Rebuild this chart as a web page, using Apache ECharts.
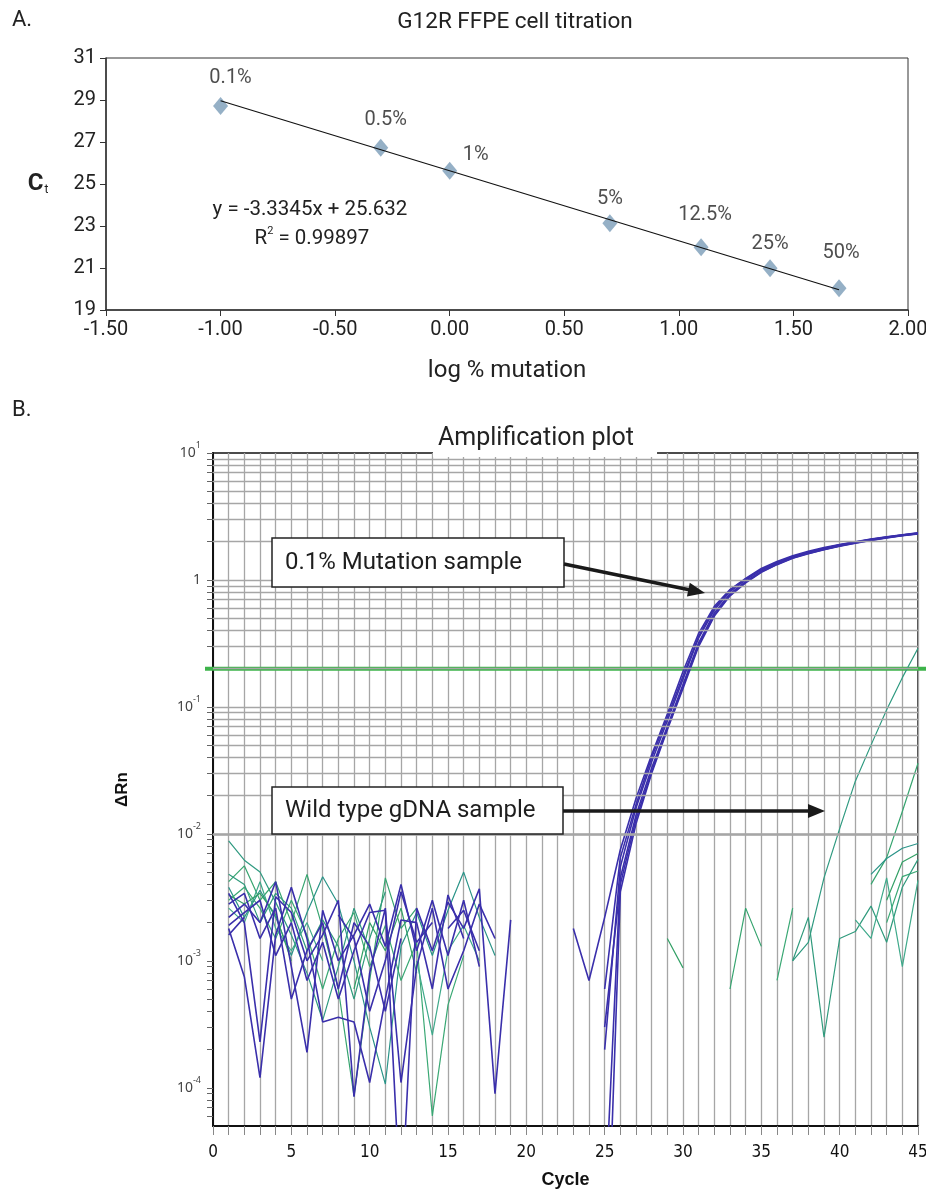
<!DOCTYPE html>
<html>
<head>
<meta charset="utf-8">
<script src="https://cdn.jsdelivr.net/npm/echarts@6/dist/echarts.min.js"></script>
<style>
html,body{margin:0;padding:0;background:#fff;}
#chart{width:926px;height:1189px;}
</style>
</head>
<body>
<div id="chart"></div>
<script>
// ---------------- Panel A data ----------------
const titrationLabels = ['0.1%', '0.5%', '1%', '5%', '12.5%', '25%', '50%'];
const logMutation = [-1.00, -0.301, 0.00, 0.699, 1.097, 1.398, 1.699];
const ctValues = [28.71, 26.73, 25.63, 23.13, 21.99, 20.99, 20.03];
const fitSlope = -3.3345;
const fitIntercept = 25.632;
const fitR2 = '0.99897';

// ---------------- Panel B data ----------------
const cycles = [1,2,3,4,5,6,7,8,9,10,11,12,13,14,15,16,17,18,19,20,21,22,23,24,25,26,27,28,29,30,31,32,33,34,35,36,37,38,39,40,41,42,43,44,45];
const threshold = 0.2;
const n = null;
// 0.1% mutation sample replicates (delta Rn per cycle)
const mut1 = [2.2e-3,2.8e-3,2.0e-3,4.2e-3,9e-4,1.9e-4,2.5e-3,1.0e-3,1.6e-3,2.8e-3,1.3e-3,4.0e-3,1.2e-3,3.0e-3,1.1e-3,3.0e-3,9e-4,n,n,n,n,n,1.8e-3,7e-4,2.2e-3,7.5e-3,0.019,0.042,0.088,0.19,0.38,0.62,0.84,1.03,1.23,1.4,1.55,1.68,1.8,1.9,2.0,2.1,2.19,2.27,2.35];
const mut2 = [1.8e-3,7.5e-4,1.2e-4,1.6e-3,3.8e-3,1.5e-3,3.3e-4,3.6e-4,3.3e-4,1.1e-4,5e-4,2.1e-3,2.0e-3,6e-4,3.3e-3,1.5e-3,n,n,n,n,n,n,n,n,2e-4,5.5e-3,0.016,0.037,0.078,0.165,0.35,0.58,0.81,1.0,1.2,1.37,1.52,1.65,1.77,1.88,1.98,2.08,2.17,2.26,2.33];
const mut3 = [3.4e-3,2.0e-3,2.3e-4,3.2e-3,2.4e-3,1.0e-3,1.6e-3,3.0e-3,8.5e-5,8e-4,2.6e-3,1e-5,2.6e-3,1.2e-3,2.9e-3,1.8e-3,3.7e-3,9e-5,2.1e-3,n,n,n,n,n,1e-5,4.5e-3,0.014,0.033,0.07,0.15,0.32,0.55,0.78,0.97,1.17,1.34,1.5,1.63,1.75,1.86,1.97,2.07,2.16,2.24,2.31];
const mut4 = [1.9e-3,2.4e-3,3.0e-3,1.1e-3,2.0e-3,7e-4,1.4e-3,5e-4,1.2e-3,2.4e-3,2.5e-3,1.1e-4,9e-4,2.6e-3,6e-4,1.2e-3,2.8e-3,1.5e-3,n,n,n,n,n,n,1e-6,3.5e-3,0.012,0.03,0.066,0.14,0.3,0.52,0.75,0.95,1.15,1.32,1.48,1.61,1.73,1.84,1.95,2.05,2.14,2.23,2.3];
const mut5 = [2.8e-3,3.4e-3,1.5e-3,2.6e-3,5e-4,1.2e-3,2.0e-3,6e-4,2.0e-3,1.3e-3,4e-4,1.5e-3,n,n,1.8e-3,2.5e-3,1.2e-3,n,n,n,n,n,n,n,6e-4,6.5e-3,0.017,0.04,0.083,0.175,0.36,0.6,0.83,1.02,1.21,1.38,1.53,1.66,1.78,1.89,1.99,2.09,2.18,2.26,2.34];
const mut6 = [1.6e-3,2.2e-3,n,n,n,n,n,2.3e-3,1.5e-3,4e-4,1.0e-3,3.5e-3,1.4e-3,2.0e-3,n,n,n,n,n,n,n,n,n,n,3e-4,4e-3,0.013,0.031,0.068,0.145,0.31,0.53,0.76,0.96,1.16,1.33,1.49,1.62,1.74,1.85,1.96,2.06,2.15,2.24,2.32];
// wild type gDNA sample replicates
const wt1 = [8.8e-3,6.2e-3,5.0e-3,2.9e-3,1.6e-3,8e-4,3.4e-4,9e-4,2.6e-3,1.2e-3,n,n,n,n,n,n,n,n,n,n,n,n,n,n,n,n,n,n,n,n,n,n,n,n,n,n,1.0e-3,1.4e-3,4.5e-3,0.011,0.026,0.05,0.095,0.17,0.29];
const wt2 = [4.2e-3,5.6e-3,3.0e-3,4.2e-3,2.0e-3,4.8e-3,1.8e-3,6e-4,8.6e-5,7e-4,4.5e-3,1.8e-3,2.6e-3,n,n,n,n,n,n,n,n,n,n,n,n,n,n,n,n,n,n,n,6e-4,2.6e-3,1.3e-3,n,n,n,n,n,n,4.0e-3,6.5e-3,0.015,0.036];
const wt3 = [3.8e-3,2.2e-3,3.6e-3,2.2e-3,1.1e-3,2.4e-3,4.6e-3,2.8e-3,1.0e-3,3.0e-4,1.07e-4,1.3e-3,2.4e-3,1.1e-3,2.5e-3,5.0e-3,2.2e-3,1.1e-3,n,n,n,n,n,n,n,n,n,n,n,n,n,n,n,n,n,n,n,n,n,n,n,4.8e-3,6.4e-3,7.7e-3,8.4e-3];
const wt4 = [3.0e-3,3.8e-3,2.6e-3,1.5e-3,3.0e-3,1.6e-3,6e-4,1.5e-3,2.4e-3,9e-4,1.9e-3,7e-4,1.4e-3,6e-5,4.5e-4,1.1e-3,n,n,n,n,n,n,n,n,n,n,n,n,n,n,n,n,n,n,n,7e-4,2.6e-3,n,n,n,n,n,2.0e-3,4.6e-3,5.1e-3];
const wt5 = [4.8e-3,4.0e-3,2.0e-3,3.4e-3,2.6e-3,1.2e-3,2.1e-3,1.3e-3,5e-4,1.5e-3,3.5e-3,n,n,n,n,n,n,n,n,n,n,n,n,n,n,n,n,n,n,n,n,n,n,n,n,n,1.0e-3,2.2e-3,2.5e-4,1.5e-3,1.7e-3,2.7e-3,1.4e-3,3.8e-3,6.3e-3];
const wt6 = [2.6e-3,2.0e-3,4.2e-3,1.8e-3,1.2e-3,2.0e-3,1.0e-3,n,n,n,n,n,1.0e-3,2.6e-4,1.2e-3,1.9e-3,1.0e-3,n,n,n,n,n,n,n,n,n,n,n,n,n,n,n,n,n,n,n,n,n,n,n,2.1e-3,1.5e-3,4.5e-3,9e-4,4.3e-3];
const wt7 = [3.3e-3,2.8e-3,3.4e-3,2.3e-3,1.0e-3,n,n,n,6e-4,2.0e-3,1.2e-3,2.6e-3,8e-4,n,n,n,n,n,n,n,n,n,n,n,n,n,n,n,1.5e-3,8.8e-4,n,n,n,n,n,n,n,n,n,n,n,n,3.0e-3,6.0e-3,7.0e-3];
const mutationCurves = [mut1, mut2, mut3, mut4, mut5, mut6];
const wildTypeCurves = [wt1, wt2, wt3, wt4, wt5, wt6, wt7];

// ---------------- styling (not data) ----------------
const FONT = 'Roboto, "Noto Sans", sans-serif';
const labelOffsets = [[10,-28],[5,-28],[26,-16],[0,-24],[4,-32],[0,-24],[2,-35]];
const blueColor = '#3a2fab';
const greenColors = ['#2f9a80','#36a46f','#2a9488','#3aa874','#2f9a7c','#3fa98a','#33a066'];

const chart = echarts.init(document.getElementById('chart'), null, {renderer: 'canvas', width: 926, height: 1189});

function toPairs(arr) {
  return cycles.map((c, i) => [c, arr[i] == null ? '-' : arr[i]]);
}

// grid line values for the log axis (positions of 1..9 x 10^k)
const gridValues = [];
[-5, -4, -3, -2, -1, 0].forEach(k => {
  for (let m = 1; m <= 9; m++) {
    const v = m * Math.pow(10, k);
    if (v > 5e-5 && v < 10) gridValues.push(+v.toPrecision(3));
  }
});
const tickValues = gridValues.concat([10]);

const xMinFit = Math.min.apply(null, logMutation);
const xMaxFit = Math.max.apply(null, logMutation);

const series = [
  {
    type: 'scatter', xAxisIndex: 0, yAxisIndex: 0, z: 2,
    symbol: 'diamond', symbolSize: [15, 18],
    itemStyle: {color: '#7b9cb8'},
    data: logMutation.map((x, i) => ({
      value: [x, ctValues[i]],
      label: {show: true, position: 'inside', formatter: titrationLabels[i], offset: labelOffsets[i],
              fontSize: 20, color: '#222', fontFamily: FONT}
    })),
    silent: true
  },
  {
    type: 'line', xAxisIndex: 0, yAxisIndex: 0, z: 3,
    showSymbol: false, symbol: 'none',
    lineStyle: {color: '#111', width: 1.2},
    data: [[xMinFit, fitSlope * xMinFit + fitIntercept], [xMaxFit, fitSlope * xMaxFit + fitIntercept]],
    silent: true
  },
  {
    type: 'line', xAxisIndex: 1, yAxisIndex: 1, z: 1, data: [],
    markLine: {
      silent: true, symbol: ['none', 'none'], label: {show: false},
      lineStyle: {color: '#a6a6a6', type: 'solid', width: 1.3},
      emphasis: {disabled: true},
      animation: false,
      data: gridValues.map(v => ({yAxis: v}))
    }
  }
];
wildTypeCurves.forEach((arr, i) => {
  series.push({
    type: 'line', xAxisIndex: 1, yAxisIndex: 1, z: 3,
    showSymbol: false, symbol: 'none', connectNulls: false, clip: true,
    lineStyle: {color: greenColors[i % greenColors.length], width: 1.2},
    data: toPairs(arr), silent: true
  });
});
mutationCurves.forEach((arr) => {
  series.push({
    type: 'line', xAxisIndex: 1, yAxisIndex: 1, z: 4,
    showSymbol: false, symbol: 'none', connectNulls: false, clip: true,
    lineStyle: {color: blueColor, width: 1.6},
    data: toPairs(arr), silent: true
  });
});

const option = {
  animation: false,
  backgroundColor: '#fff',
  textStyle: {fontFamily: FONT},
  title: [
    {text: 'G12R FFPE cell titration', left: 510, top: 6, textAlign: 'center',
     textStyle: {fontSize: 22.5, fontWeight: 'normal', color: '#222', fontFamily: FONT}},
    {text: 'Amplification plot', left: 433, top: 423, textAlign: 'left',
     backgroundColor: '#fff', padding: [3, 23, 6, 5],
     textStyle: {fontSize: 25, fontWeight: 'normal', color: '#222', fontFamily: FONT}}
  ],
  grid: [
    {left: 106, top: 58, width: 802, height: 252, show: true, borderColor: '#333', borderWidth: 1,
     backgroundColor: 'transparent', containLabel: false, outerBoundsMode: 'none'},
    {left: 213, top: 453, width: 705, height: 673, show: true, borderColor: '#111', borderWidth: 1.5,
     backgroundColor: 'transparent', containLabel: false, outerBoundsMode: 'none'}
  ],
  xAxis: [
    {
      gridIndex: 0, type: 'value', min: -1.5, max: 2, interval: 0.5,
      name: 'log % mutation', nameLocation: 'middle', nameGap: 49,
      nameTextStyle: {fontSize: 24, color: '#222', fontFamily: FONT},
      axisLine: {show: true, onZero: false, lineStyle: {color: '#333', width: 1.5}},
      axisTick: {show: true, inside: false, length: 6, lineStyle: {color: '#333'}},
      axisLabel: {fontSize: 20, color: '#222', margin: 10, fontFamily: FONT, formatter: v => v.toFixed(2)},
      splitLine: {show: false}
    },
    {
      gridIndex: 1, type: 'value', min: 0, max: 45, interval: 1,
      name: 'Cycle', nameLocation: 'middle', nameGap: 45,
      nameTextStyle: {fontSize: 18, fontWeight: 'bold', color: '#111', fontFamily: '"Liberation Sans", Arial, sans-serif'},
      axisLine: {show: true, onZero: false, lineStyle: {color: '#111', width: 2}},
      axisTick: {show: true, inside: false, length: 9, lineStyle: {color: '#888'}},
      axisLabel: {fontSize: 17, color: '#111', margin: 18,
                  fontFamily: '"Liberation Sans Narrow", "DejaVu Sans Condensed", sans-serif',
                  formatter: v => (v % 5 === 0 ? String(v) : '')},
      splitLine: {show: true, lineStyle: {color: '#a6a6a6', width: 1.3}}
    }
  ],
  yAxis: [
    {
      gridIndex: 0, type: 'value', min: 19, max: 31, interval: 2,
      axisLine: {show: true, onZero: false, lineStyle: {color: '#333', width: 1.5}},
      axisTick: {show: true, inside: false, length: 6, lineStyle: {color: '#333'}},
      axisLabel: {fontSize: 20, color: '#222', margin: 10, fontFamily: FONT},
      splitLine: {show: false}
    },
    {
      gridIndex: 1, type: 'log', logBase: 10, min: 5e-5, max: 10,
      name: 'ΔRn', nameLocation: 'middle', nameGap: 82, nameRotate: 90,
      nameTextStyle: {fontSize: 17, fontWeight: 'bold', color: '#111', fontFamily: '"Liberation Sans", Arial, sans-serif'},
      axisLine: {show: true, onZero: false, lineStyle: {color: '#111', width: 2}},
      axisTick: {show: true, inside: false, length: 6, customValues: tickValues, lineStyle: {color: '#666'}},
      axisLabel: {
        margin: 12, color: '#444', fontFamily: '"Noto Sans", sans-serif', fontSize: 14,
        formatter: v => {
          const e = Math.log10(v);
          const r = Math.round(e);
          if (Math.abs(e - r) > 1e-6) return '';
          if (r === 0) return '{b|1}';
          return '{b|10}{s|' + r + '}';
        },
        rich: {
          b: {fontSize: 14, lineHeight: 24, color: '#444', fontFamily: '"Noto Sans", sans-serif'},
          s: {fontSize: 9, verticalAlign: 'top', color: '#444', fontFamily: '"Noto Sans", sans-serif'}
        }
      },
      splitLine: {show: false}
    }
  ],
  series: series
};
chart.setOption(option);

// ---- annotations positioned with the library's scales ----
const yThr = chart.convertToPixel({yAxisIndex: 1}, threshold);

function arrow(x1, y1, x2, y2) {
  const dx = x2 - x1, dy = y2 - y1, L = Math.hypot(dx, dy), ux = dx / L, uy = dy / L;
  const hl = 17, hw = 7;
  const bx = x2 - ux * hl, by = y2 - uy * hl;
  return [
    {type: 'line', z: 20, shape: {x1: x1, y1: y1, x2: bx + ux * 2, y2: by + uy * 2}, style: {stroke: '#1a1a1a', lineWidth: 3.5}},
    {type: 'polygon', z: 20, shape: {points: [[x2, y2], [bx - uy * hw, by + ux * hw], [bx + uy * hw, by - ux * hw]]}, style: {fill: '#1a1a1a'}}
  ];
}

const graphics = [
  {type: 'text', left: 12, top: 9, z: 20, style: {text: 'A.', fontSize: 22, fill: '#222', fontFamily: FONT}},
  {type: 'text', left: 12, top: 399, z: 20, style: {text: 'B.', fontSize: 22, fill: '#222', fontFamily: FONT}},
  {type: 'text', x: 38, y: 184, z: 20, style: {
    text: '{c|C}{t|t}', textAlign: 'center', textVerticalAlign: 'middle',
    rich: {c: {fontSize: 24, fontWeight: 'bold', fill: '#222', fontFamily: FONT},
           t: {fontSize: 12, verticalAlign: 'bottom', fill: '#222', fontFamily: FONT, padding: [10, 0, 0, 1]}}
  }},
  {type: 'text', x: 310, y: 210, z: 20, style: {
    text: 'y = ' + fitSlope + 'x + ' + fitIntercept, textAlign: 'center', textVerticalAlign: 'middle',
    fontSize: 20.5, fill: '#222', fontFamily: FONT
  }},
  {type: 'text', x: 312, y: 239, z: 20, style: {
    text: '{r|R}{s|2}{r| = ' + fitR2 + '}', textAlign: 'center', textVerticalAlign: 'middle',
    rich: {r: {fontSize: 20.5, lineHeight: 26, fill: '#222', fontFamily: FONT},
           s: {fontSize: 11, verticalAlign: 'top', fill: '#222', fontFamily: FONT}}
  }},
  {type: 'line', z: 2, shape: {x1: 205, y1: yThr, x2: 926, y2: yThr}, style: {stroke: '#3db34a', lineWidth: 4}},
  {type: 'rect', z: 19, shape: {x: 272, y: 538, width: 292, height: 49}, style: {fill: '#fff', stroke: '#222', lineWidth: 1.5}},
  {type: 'text', x: 285, y: 563, z: 21, style: {text: '0.1% Mutation sample', textAlign: 'left', textVerticalAlign: 'middle', fontSize: 24, fill: '#1e1e1e', fontFamily: FONT}},
  {type: 'rect', z: 19, shape: {x: 272, y: 787, width: 291, height: 47}, style: {fill: '#fff', stroke: '#222', lineWidth: 1.5}},
  {type: 'text', x: 285, y: 811, z: 21, style: {text: 'Wild type gDNA sample', textAlign: 'left', textVerticalAlign: 'middle', fontSize: 24, fill: '#1e1e1e', fontFamily: FONT}}
].concat(arrow(564, 564, 705, 593)).concat(arrow(563, 811, 825, 811));

chart.setOption({graphic: graphics});
</script>
</body>
</html>
